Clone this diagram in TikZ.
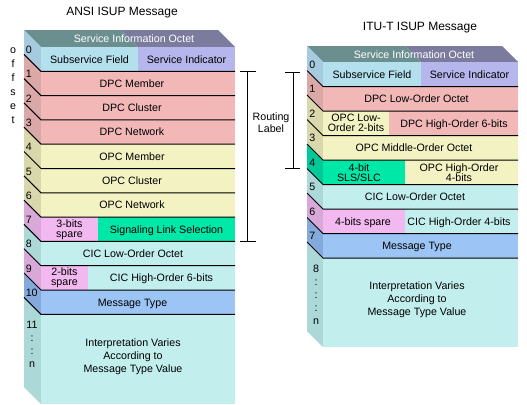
\documentclass[tikz,border=0pt]{standalone}
\usepackage{fontspec}
\setmainfont{Liberation Sans}
\usepackage{xcolor}
\definecolor{topTeal}{HTML}{6B8F8F}
\definecolor{topPurple}{HTML}{7B7B9E}
\definecolor{subFront}{HTML}{B4E0EE}
\definecolor{subSide}{HTML}{A6CADE}
\definecolor{siFront}{HTML}{B6B6EC}
\definecolor{dpcFront}{HTML}{F2B8B8}
\definecolor{dpcSide}{HTML}{DBA8A8}
\definecolor{opcFront}{HTML}{F2F2C2}
\definecolor{opcSide}{HTML}{D8D8AC}
\definecolor{spareFront}{HTML}{F2B8F0}
\definecolor{spareSide}{HTML}{D8A8D8}
\definecolor{slsFront}{HTML}{00E8A8}
\definecolor{slsSide}{HTML}{00C898}
\definecolor{cicFront}{HTML}{C2EEEE}
\definecolor{cicSide}{HTML}{ACD8D8}
\definecolor{msgFront}{HTML}{9CC4F4}
\definecolor{msgSide}{HTML}{84AADC}
\usepackage{tikz}
\usetikzlibrary{positioning, calc}

\begin{document}
\begin{tikzpicture}[
    x=0.75pt, y=-0.75pt,
    fieldtext/.style={font=\fontsize{8}{9}\selectfont, inner sep=0pt, text height=5.8pt, text depth=0pt},
    twoline/.style={font=\fontsize{8}{7.5}\selectfont, inner sep=0pt, align=center},
    bigtext/.style={font=\fontsize{8}{9.75}\selectfont, inner sep=0pt, align=center},
    numtext/.style={font=\fontsize{8}{9}\selectfont, inner sep=0pt, anchor=base west},
    numcol/.style={font=\fontsize{8}{9.75}\selectfont, inner sep=0pt, align=center, anchor=north},
    toptext/.style={fieldtext, text=white},
    titletext/.style={font=\fontsize{9}{11}\selectfont, inner sep=0pt},
    rowline/.style={draw=black, line width=0.75pt},
    bracket/.style={draw=black, line width=0.75pt}
]
\useasboundingbox (0,0) rectangle (527,404);

% ANSI message
\node[titletext] (ansiTitle) at (122,13) {ANSI ISUP Message};
\foreach \ch [count=\k from 0] in {o,f,f,s,e,t}
    \node[fieldtext, anchor=base] (offset\k) at (13,53+14*\k) {\ch};

\fill[topTeal] (24,30) -- (121,30) -- (138,47) -- (41,47) -- cycle;
\fill[topPurple] (121,30) -- (218,30) -- (235,47) -- (138,47) -- cycle;
\foreach \i/\fc/\sc in {0/subFront/subSide, 1/dpcFront/dpcSide, 2/dpcFront/dpcSide,
        3/dpcFront/dpcSide, 4/opcFront/opcSide, 5/opcFront/opcSide, 6/opcFront/opcSide,
        7/spareFront/spareSide, 8/cicFront/cicSide, 9/spareFront/spareSide, 10/msgFront/msgSide} {
    \pgfmathsetmacro{\yA}{47+24.3*\i}
    \pgfmathsetmacro{\yB}{\yA+24.3}
    \fill[\sc] (24,\yA-17) -- (41,\yA) -- (41,\yB) -- (24,\yB-17) -- cycle;
    \fill[\fc] (41,\yA) rectangle (235,\yB);
    \node[numtext] (ansiNum\i) at (25.5,\yA+6.5) {\i};
}
\fill[siFront] (138,47) rectangle (235,71.3);
\fill[slsFront] (98,217.1) rectangle (235,241.4);
\fill[cicFront] (88,265.7) rectangle (235,290);
% last row runs off the page
\fill[cicSide] (24,297.3) -- (41,314.3) -- (41,404) -- (24,387) -- cycle;
\fill[cicFront] (41,314.3) rectangle (235,404);
\foreach \i in {1,...,11} {
    \pgfmathsetmacro{\yA}{47+24.3*\i}
    \draw[rowline] (24,\yA-17) -- (41,\yA) -- (235,\yA);
}
\node[numcol] (ansiNum11) at (32,321) {11\\:\\:\\n};

\node[toptext] (ansiSio) at (134,38.5) {Service Information Octet};
\node[fieldtext] (ansiSub) at (89.5,59.15) {Subservice Field};
\node[fieldtext] (ansiSi) at (186.5,59.15) {Service Indicator};
\node[fieldtext] (ansiDpcM) at (132,83.45) {DPC Member};
\node[fieldtext] (ansiDpcC) at (132,107.75) {DPC Cluster};
\node[fieldtext] (ansiDpcN) at (132,132.05) {DPC Network};
\node[fieldtext] (ansiOpcM) at (132,156.35) {OPC Member};
\node[fieldtext] (ansiOpcC) at (132,180.65) {OPC Cluster};
\node[fieldtext] (ansiOpcN) at (132,204.95) {OPC Network};
\node[twoline] (ansiSpare3) at (69.5,229.25) {3-bits\\spare};
\node[fieldtext] (ansiSls) at (166.5,229.25) {Signaling Link Selection};
\node[fieldtext] (ansiCicL) at (133,253.55) {CIC Low-Order Octet};
\node[twoline] (ansiSpare2) at (64.5,277.85) {2-bits\\spare};
\node[fieldtext] (ansiCicH) at (161.5,277.85) {CIC High-Order 6-bits};
\node[fieldtext] (ansiMsg) at (132.5,302.15) {Message Type};
\node[bigtext] (ansiRest) at (133,357) {Interpretation Varies\\According to\\Message Type Value};

% routing label
\coordinate (ansiRlTopL) at (240,71);
\coordinate (ansiRlTopR) at (256,71);
\coordinate (ansiRlTop) at (247,71);
\coordinate (ansiRlBotL) at (240,241);
\coordinate (ansiRlBotR) at (256,241);
\coordinate (ansiRlBot) at (247,241);
\draw[bracket] (ansiRlTopL) -- (ansiRlTopR);
\draw[bracket] (ansiRlTop) -- (ansiRlBot);
\draw[bracket] (ansiRlBotL) -- (ansiRlBotR);
\node[font=\fontsize{8}{9}\selectfont, inner sep=0pt, align=center] (routing) at (271,123) {Routing\\Label};
\coordinate (ituRlTopL) at (285,72);
\coordinate (ituRlTopR) at (300,72);
\coordinate (ituRlTop) at (293,72);
\coordinate (ituRlBotL) at (285,168);
\coordinate (ituRlBotR) at (300,168);
\coordinate (ituRlBot) at (293,168);
\draw[bracket] (ituRlTopL) -- (ituRlTopR);
\draw[bracket] (ituRlTop) -- (ituRlBot);
\draw[bracket] (ituRlBotL) -- (ituRlBotR);

% ITU-T message
\node[titletext] (ituTitle) at (420,28) {ITU-T ISUP Message};
\fill[topTeal] (307,46) -- (405,46) -- (421,62) -- (323,62) -- cycle;
\fill[topPurple] (405,46) -- (502,46) -- (518,62) -- (421,62) -- cycle;
\foreach \i/\fc/\sc in {0/subFront/subSide, 1/dpcFront/dpcSide, 2/dpcFront/opcSide,
        3/opcFront/opcSide, 4/opcFront/slsSide, 5/cicFront/cicSide, 6/cicFront/spareSide,
        7/msgFront/msgSide} {
    \pgfmathsetmacro{\yA}{62+24.5*\i}
    \pgfmathsetmacro{\yB}{\yA+24.5}
    \fill[\sc] (307,\yA-16) -- (323,\yA) -- (323,\yB) -- (307,\yB-16) -- cycle;
    \fill[\fc] (323,\yA) rectangle (518,\yB);
    \node[numtext] (ituNum\i) at (309,\yA+6) {\i};
}
\fill[siFront] (421,62) rectangle (518,86.5);
\fill[opcFront] (323,111) rectangle (389,135.5);
\fill[slsFront] (323,160) rectangle (405,184.5);
\fill[spareFront] (323,209) rectangle (405,233.5);
\fill[cicSide] (307,242) -- (323,258) -- (323,347) -- (307,331) -- cycle;
\fill[cicFront] (323,258) rectangle (518,347);
\foreach \i in {1,...,8} {
    \pgfmathsetmacro{\yA}{62+24.5*\i}
    \draw[rowline] (307,\yA-16) -- (323,\yA) -- (518,\yA);
}
\node[numcol] (ituNum8) at (316,265) {8\\:\\:\\:\\n};

\node[toptext] (ituSio) at (414,54.5) {Service Information Octet};
\node[fieldtext] (ituSub) at (372,74.25) {Subservice Field};
\node[fieldtext] (ituSi) at (469.5,74.25) {Service Indicator};
\node[fieldtext] (ituDpcL) at (416.5,98.75) {DPC Low-Order Octet};
\node[twoline] (ituOpcL) at (356,123.25) {OPC Low-\\Order 2-bits};
\node[fieldtext] (ituDpcH) at (454,123.25) {DPC High-Order 6-bits};
\node[fieldtext] (ituOpcM) at (414,147.75) {OPC Middle-Order Octet};
\node[twoline] (ituSls) at (359,172.25) {4-bit\\SLS/SLC};
\node[twoline] (ituOpcH) at (459,172.25) {OPC High-Order\\4-bits};
\node[fieldtext] (ituCicL) at (415,196.75) {CIC Low-Order Octet};
\node[fieldtext] (ituSpare) at (363,221.25) {4-bits spare};
\node[fieldtext] (ituCicH) at (459,221.25) {CIC High-Order 4-bits};
\node[fieldtext] (ituMsg) at (417,245.75) {Message Type};
\node[bigtext] (ituRest) at (417,300) {Interpretation Varies\\According to\\Message Type Value};

\end{tikzpicture}
\end{document}
